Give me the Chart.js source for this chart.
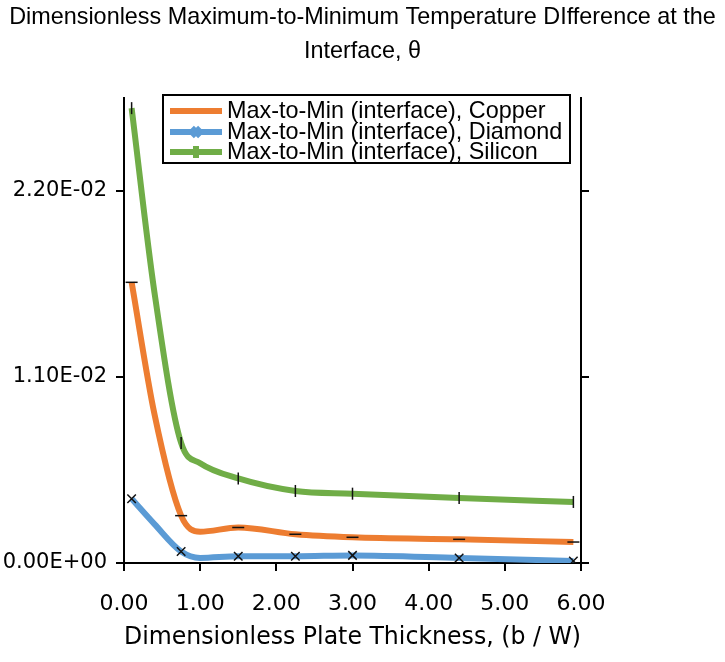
<!DOCTYPE html>
<html>
<head>
<meta charset="utf-8">
<script src="https://cdn.jsdelivr.net/npm/chart.js@4"></script>
<style>
  html, body { margin: 0; padding: 0; background: #fff; }
  #wrap { width: 725px; height: 662px; }
</style>
</head>
<body>
<div id="wrap"><canvas id="theta_chart"></canvas></div>
<script>
// plate thickness b/W where the curves were sampled
const thickness = [0.1, 0.4, 0.75, 1.0, 1.5, 2.25, 3.0, 4.4, 5.9]
// points that carry a marker in the original (0.4 and 1.0 are only shape points)
const has_marker = [1, 0, 1, 0, 1, 1, 1, 1, 1]

const copper = [0.0166, 0.0088, 0.0028, 0.00185, 0.0021, 0.0017, 0.00152, 0.0014, 0.00124]
const diamond = [0.0038, 0.0023, 0.00068, 0.0003, 0.0004, 0.0004, 0.00045, 0.0003, 0.00012]
const silicon = [0.0269, 0.016, 0.0071, 0.0059, 0.005, 0.00426, 0.0041, 0.00384, 0.00361]

const series_labels = [
	'Max-to-Min (interface), Copper',
	'Max-to-Min (interface), Diamond',
	'Max-to-Min (interface), Silicon',
]
const y_ticks = [0, 0.011, 0.022]

function sci(v) {
	const [m, e] = v.toExponential(2).split('e')
	const sign = e[0] === '-' ? '-' : '+'
	const digits = e.replace(/[+-]/, '').padStart(2, '0')
	return m + 'E' + sign + digits
}

function make_dataset(label, values, color, style, rotation) {
	return {
		label: label,
		data: thickness.map((x, i) => ({ x: x, y: values[i] })),
		borderColor: color,
		backgroundColor: color,
		borderWidth: 6,
		cubicInterpolationMode: 'monotone',
		pointStyle: style,
		pointRotation: rotation,
		pointRadius: has_marker.map((m) => (m ? 6 : 0)),
		pointBorderColor: '#111',
		pointBorderWidth: 1.5,
		pointHoverRadius: 0,
	}
}

// legend drawn as a boxed key inside the plot, like the original
const boxed_legend = {
	id: 'boxed_legend',
	afterDraw(chart) {
		const ctx = chart.ctx
		ctx.save()
		ctx.fillStyle = '#fff'
		ctx.fillRect(163, 95, 407, 68)
		ctx.strokeStyle = '#000'
		ctx.lineWidth = 2
		ctx.strokeRect(163, 95, 407, 68)
		const rows = [111, 132, 152]
		chart.data.datasets.forEach((ds, i) => {
			const y = rows[i]
			ctx.strokeStyle = ds.borderColor
			ctx.lineWidth = 6
			ctx.beginPath()
			ctx.moveTo(170, y)
			ctx.lineTo(222, y)
			ctx.stroke()
			Chart.helpers.drawPoint(
				ctx,
				{ pointStyle: ds.pointStyle, rotation: ds.pointRotation, radius: 6, borderWidth: 1.5 },
				196,
				y
			)
			ctx.fillStyle = '#000'
			ctx.font = '23.4px "Liberation Sans", Arial, sans-serif'
			ctx.textBaseline = 'middle'
			ctx.fillText(ds.label, 227, y + 1)
		})
		ctx.restore()
	},
}

// eslint-disable-next-line
const theta_chart = new Chart(document.getElementById('theta_chart'), {
	type: 'line',
	data: {
		datasets: [
			make_dataset(series_labels[0], copper, '#ED7D31', 'line', 0),
			make_dataset(series_labels[1], diamond, '#5B9BD5', 'crossRot', 0),
			make_dataset(series_labels[2], silicon, '#70AD47', 'line', 90),
		],
	},
	options: {
		responsive: true,
		maintainAspectRatio: false,
		animation: false,
		layout: { padding: 0 },
		plugins: {
			legend: { display: false },
			tooltip: { enabled: false },
			title: {
				display: true,
				text: [
					'Dimensionless Maximum-to-Minimum Temperature DIfference at the',
					'Interface, \u03B8',
				],
				color: '#000',
				font: { family: '"Liberation Sans Narrow", "Liberation Sans", Arial, sans-serif', size: 23.4, weight: 'normal', lineHeight: 34 / 23.4 },
				padding: { top: 1, bottom: 29 },
			},
		},
		scales: {
			x: {
				type: 'linear',
				min: 0,
				max: 6,
				ticks: {
					stepSize: 1,
					color: '#000',
					font: { family: '"DejaVu Sans", sans-serif', size: 22 },
					padding: 20,
					callback: (v) => v.toFixed(2),
				},
				grid: { drawOnChartArea: false, color: '#000', tickLength: 8, lineWidth: 2 },
				border: { color: '#000', width: 2 },
				title: {
					display: true,
					text: 'Dimensionless Plate Thickness, (b / W)',
					color: '#000',
					font: { family: '"DejaVu Sans", sans-serif', size: 24 },
					padding: { top: 0, bottom: 10 },
				},
				afterFit(scale) {
					scale.height = 99
				},
			},
			y: {
				min: 0,
				max: 0.0275,
				afterBuildTicks(scale) {
					scale.ticks = y_ticks.map((v) => ({ value: v }))
				},
				ticks: {
					color: '#000',
					font: { family: '"DejaVu Sans", sans-serif', size: 21 },
					padding: 9,
					callback: (v) => sci(v),
				},
				grid: { drawOnChartArea: false, color: '#000', tickLength: 8, lineWidth: 2 },
				border: { color: '#000', width: 2 },
				afterFit(scale) {
					scale.width = 124
				},
			},
			y2: {
				position: 'right',
				min: 0,
				max: 0.0275,
				afterBuildTicks(scale) {
					scale.ticks = y_ticks.map((v) => ({ value: v }))
				},
				ticks: { display: false },
				grid: { drawOnChartArea: false, color: '#000', tickLength: 8, lineWidth: 2 },
				border: { color: '#000', width: 2 },
				afterFit(scale) {
					scale.width = 144
				},
			},
		},
	},
	plugins: [boxed_legend],
})
</script>
</body>
</html>
